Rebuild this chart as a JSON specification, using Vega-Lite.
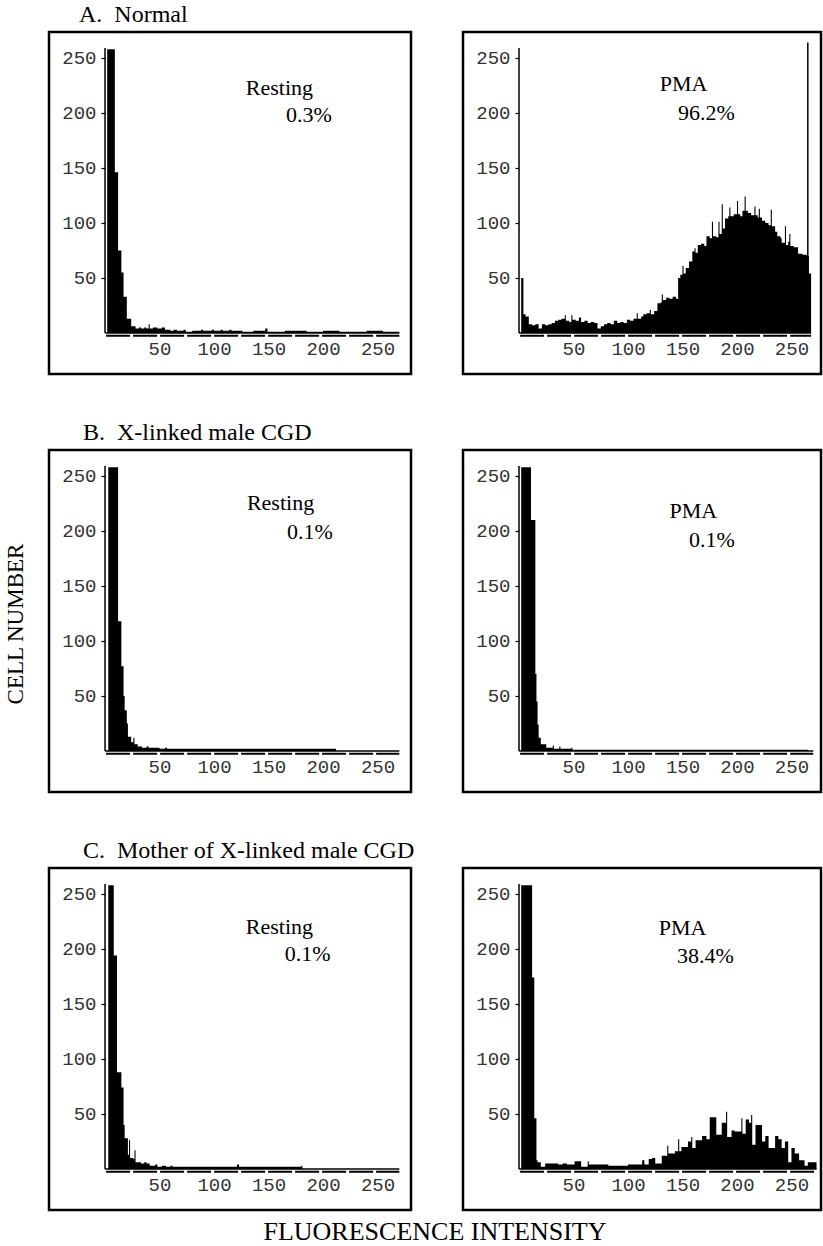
{
"$schema": "https://vega.github.io/schema/vega-lite/v6.json",
"background": "white",
"padding": {"left": 4, "top": 2, "right": 0, "bottom": 0},
"title": {"text": "CELL NUMBER", "orient": "left", "anchor": "middle", "offset": 20, "fontSize": 23},
"vconcat": [{
 "title": {"text": "FLUORESCENCE INTENSITY", "orient": "bottom", "anchor": "middle", "offset": 8, "fontSize": 26},
 "spacing": 44, "bounds": "full",
 "vconcat": [
  {"title": {"text": "A.\u00a0 Normal", "anchor": "start", "frame": "group", "dx": 30, "offset": 4, "fontSize": 24},
   "spacing": 52, "bounds": "flush",
   "hconcat": [
    {"width": 362, "height": 342, "layer": [
      {"data": {"name": "A1"}, "mark": {"type": "area", "interpolate": "step-after", "color": "black", "opacity": 1},
       "encoding": {"x": {"field": "c", "type": "quantitative", "scale": {"domain": [-51.4, 280.7], "nice": false, "zero": false}, "axis": {"values": [50,100,150,200,250], "title": null}},
                    "y": {"field": "n", "type": "quantitative", "scale": {"domain": [-37.3, 273.6], "nice": false, "zero": false}, "axis": {"values": [50,100,150,200,250], "title": null}},
                    "y2": {"datum": 0}}},
      {"data": {"values": [{}]}, "mark": {"type": "rule", "color": "black", "strokeWidth": 1.5}, "encoding": {"x": {"datum": 0}, "y": {"datum": 0}, "y2": {"datum": 259}}},
      {"data": {"values": [{}]}, "mark": {"type": "rule", "color": "black", "strokeWidth": 1.5}, "encoding": {"x": {"datum": 0}, "x2": {"datum": 270}, "y": {"datum": 0}}},
      {"data": {"values": [{}]}, "mark": {"type": "rule", "color": "black", "strokeWidth": 2, "strokeDash": [24, 3]}, "encoding": {"x": {"datum": 1}, "x2": {"datum": 270}, "y": {"datum": -2.5}}},
      {"data": {"values": [{}]}, "mark": {"type": "text"}, "encoding": {"x": {"datum": 160}, "y": {"datum": 223}, "text": {"value": "Resting"}}},
      {"data": {"values": [{}]}, "mark": {"type": "text"}, "encoding": {"x": {"datum": 187}, "y": {"datum": 198}, "text": {"value": "0.3%"}}}
    ]},
    {"width": 358, "height": 342, "layer": [
      {"data": {"name": "A2"}, "mark": {"type": "area", "interpolate": "step-after", "color": "black", "opacity": 1},
       "encoding": {"x": {"field": "c", "type": "quantitative", "scale": {"domain": [-51.4, 277.1], "nice": false, "zero": false}, "axis": {"values": [50,100,150,200,250], "title": null}},
                    "y": {"field": "n", "type": "quantitative", "scale": {"domain": [-37.3, 273.6], "nice": false, "zero": false}, "axis": {"values": [50,100,150,200,250], "title": null}},
                    "y2": {"datum": 0}}},
      {"data": {"values": [{}]}, "mark": {"type": "rule", "color": "black", "strokeWidth": 1.5}, "encoding": {"x": {"datum": 0}, "y": {"datum": 0}, "y2": {"datum": 259}}},
      {"data": {"values": [{}]}, "mark": {"type": "rule", "color": "black", "strokeWidth": 1.5}, "encoding": {"x": {"datum": 0}, "x2": {"datum": 268}, "y": {"datum": 0}}},
      {"data": {"values": [{}]}, "mark": {"type": "rule", "color": "black", "strokeWidth": 2, "strokeDash": [24, 3]}, "encoding": {"x": {"datum": 1}, "x2": {"datum": 268}, "y": {"datum": -2.5}}},
      {"data": {"values": [{}]}, "mark": {"type": "rule", "color": "black", "strokeWidth": 1.5}, "encoding": {"x": {"datum": 265}, "y": {"datum": 0}, "y2": {"datum": 264}}},
      {"data": {"values": [{}]}, "mark": {"type": "text"}, "encoding": {"x": {"datum": 151}, "y": {"datum": 226}, "text": {"value": "PMA"}}},
      {"data": {"values": [{}]}, "mark": {"type": "text"}, "encoding": {"x": {"datum": 172}, "y": {"datum": 200}, "text": {"value": "96.2%"}}}
    ]}
   ]},
  {"title": {"text": "B.\u00a0 X-linked male CGD", "anchor": "start", "frame": "group", "dx": 34, "offset": 4, "fontSize": 24},
   "spacing": 52, "bounds": "flush",
   "hconcat": [
    {"width": 362, "height": 342, "layer": [
      {"data": {"name": "B1"}, "mark": {"type": "area", "interpolate": "step-after", "color": "black", "opacity": 1},
       "encoding": {"x": {"field": "c", "type": "quantitative", "scale": {"domain": [-51.4, 280.7], "nice": false, "zero": false}, "axis": {"values": [50,100,150,200,250], "title": null}},
                    "y": {"field": "n", "type": "quantitative", "scale": {"domain": [-37.3, 273.6], "nice": false, "zero": false}, "axis": {"values": [50,100,150,200,250], "title": null}},
                    "y2": {"datum": 0}}},
      {"data": {"values": [{}]}, "mark": {"type": "rule", "color": "black", "strokeWidth": 1.5}, "encoding": {"x": {"datum": 0}, "y": {"datum": 0}, "y2": {"datum": 259}}},
      {"data": {"values": [{}]}, "mark": {"type": "rule", "color": "black", "strokeWidth": 1.5}, "encoding": {"x": {"datum": 0}, "x2": {"datum": 270}, "y": {"datum": 0}}},
      {"data": {"values": [{}]}, "mark": {"type": "rule", "color": "black", "strokeWidth": 2, "strokeDash": [24, 3]}, "encoding": {"x": {"datum": 1}, "x2": {"datum": 270}, "y": {"datum": -2.5}}},
      {"data": {"values": [{}]}, "mark": {"type": "text"}, "encoding": {"x": {"datum": 161}, "y": {"datum": 225}, "text": {"value": "Resting"}}},
      {"data": {"values": [{}]}, "mark": {"type": "text"}, "encoding": {"x": {"datum": 188}, "y": {"datum": 199}, "text": {"value": "0.1%"}}}
    ]},
    {"width": 358, "height": 342, "layer": [
      {"data": {"name": "B2"}, "mark": {"type": "area", "interpolate": "step-after", "color": "black", "opacity": 1},
       "encoding": {"x": {"field": "c", "type": "quantitative", "scale": {"domain": [-51.4, 277.1], "nice": false, "zero": false}, "axis": {"values": [50,100,150,200,250], "title": null}},
                    "y": {"field": "n", "type": "quantitative", "scale": {"domain": [-37.3, 273.6], "nice": false, "zero": false}, "axis": {"values": [50,100,150,200,250], "title": null}},
                    "y2": {"datum": 0}}},
      {"data": {"values": [{}]}, "mark": {"type": "rule", "color": "black", "strokeWidth": 1.5}, "encoding": {"x": {"datum": 0}, "y": {"datum": 0}, "y2": {"datum": 259}}},
      {"data": {"values": [{}]}, "mark": {"type": "rule", "color": "black", "strokeWidth": 1.5}, "encoding": {"x": {"datum": 0}, "x2": {"datum": 270}, "y": {"datum": 0}}},
      {"data": {"values": [{}]}, "mark": {"type": "rule", "color": "black", "strokeWidth": 2, "strokeDash": [24, 3]}, "encoding": {"x": {"datum": 1}, "x2": {"datum": 270}, "y": {"datum": -2.5}}},
      {"data": {"values": [{}]}, "mark": {"type": "text"}, "encoding": {"x": {"datum": 160}, "y": {"datum": 218}, "text": {"value": "PMA"}}},
      {"data": {"values": [{}]}, "mark": {"type": "text"}, "encoding": {"x": {"datum": 177}, "y": {"datum": 192}, "text": {"value": "0.1%"}}}
    ]}
   ]},
  {"title": {"text": "C.\u00a0 Mother of X-linked male CGD", "anchor": "start", "frame": "group", "dx": 34, "offset": 4, "fontSize": 24},
   "spacing": 52, "bounds": "flush",
   "hconcat": [
    {"width": 362, "height": 342, "layer": [
      {"data": {"name": "C1"}, "mark": {"type": "area", "interpolate": "step-after", "color": "black", "opacity": 1},
       "encoding": {"x": {"field": "c", "type": "quantitative", "scale": {"domain": [-51.4, 280.7], "nice": false, "zero": false}, "axis": {"values": [50,100,150,200,250], "title": null}},
                    "y": {"field": "n", "type": "quantitative", "scale": {"domain": [-37.3, 273.6], "nice": false, "zero": false}, "axis": {"values": [50,100,150,200,250], "title": null}},
                    "y2": {"datum": 0}}},
      {"data": {"values": [{}]}, "mark": {"type": "rule", "color": "black", "strokeWidth": 1.5}, "encoding": {"x": {"datum": 0}, "y": {"datum": 0}, "y2": {"datum": 259}}},
      {"data": {"values": [{}]}, "mark": {"type": "rule", "color": "black", "strokeWidth": 1.5}, "encoding": {"x": {"datum": 0}, "x2": {"datum": 270}, "y": {"datum": 0}}},
      {"data": {"values": [{}]}, "mark": {"type": "rule", "color": "black", "strokeWidth": 2, "strokeDash": [24, 3]}, "encoding": {"x": {"datum": 1}, "x2": {"datum": 270}, "y": {"datum": -2.5}}},
      {"data": {"values": [{}]}, "mark": {"type": "text"}, "encoding": {"x": {"datum": 160}, "y": {"datum": 220}, "text": {"value": "Resting"}}},
      {"data": {"values": [{}]}, "mark": {"type": "text"}, "encoding": {"x": {"datum": 186}, "y": {"datum": 195}, "text": {"value": "0.1%"}}}
    ]},
    {"width": 358, "height": 342, "layer": [
      {"data": {"name": "C2"}, "mark": {"type": "area", "interpolate": "step-after", "color": "black", "opacity": 1},
       "encoding": {"x": {"field": "c", "type": "quantitative", "scale": {"domain": [-51.4, 277.1], "nice": false, "zero": false}, "axis": {"values": [50,100,150,200,250], "title": null}},
                    "y": {"field": "n", "type": "quantitative", "scale": {"domain": [-37.3, 273.6], "nice": false, "zero": false}, "axis": {"values": [50,100,150,200,250], "title": null}},
                    "y2": {"datum": 0}}},
      {"data": {"values": [{}]}, "mark": {"type": "rule", "color": "black", "strokeWidth": 1.5}, "encoding": {"x": {"datum": 0}, "y": {"datum": 0}, "y2": {"datum": 259}}},
      {"data": {"values": [{}]}, "mark": {"type": "rule", "color": "black", "strokeWidth": 1.5}, "encoding": {"x": {"datum": 0}, "x2": {"datum": 273}, "y": {"datum": 0}}},
      {"data": {"values": [{}]}, "mark": {"type": "rule", "color": "black", "strokeWidth": 2, "strokeDash": [24, 3]}, "encoding": {"x": {"datum": 1}, "x2": {"datum": 273}, "y": {"datum": -2.5}}},
      {"data": {"values": [{}]}, "mark": {"type": "text"}, "encoding": {"x": {"datum": 150}, "y": {"datum": 219}, "text": {"value": "PMA"}}},
      {"data": {"values": [{}]}, "mark": {"type": "text"}, "encoding": {"x": {"datum": 171}, "y": {"datum": 194}, "text": {"value": "38.4%"}}}
    ]}
   ]}
 ]
}],
"datasets": {
 "A1": [{"c":2,"n":258},{"c":9,"n":146},{"c":12,"n":75},{"c":15,"n":55},{"c":17,"n":33},{"c":20,"n":13},{"c":24,"n":6},{"c":28,"n":4},{"c":31,"n":5},{"c":33,"n":4},{"c":36,"n":5},{"c":38,"n":4},{"c":40,"n":8},{"c":41,"n":4},{"c":44,"n":5},{"c":48,"n":4},{"c":52,"n":5},{"c":55,"n":3},{"c":60,"n":2},{"c":63,"n":3},{"c":66,"n":2},{"c":72,"n":3},{"c":74,"n":1},{"c":80,"n":2},{"c":88,"n":3},{"c":90,"n":2},{"c":98,"n":3},{"c":100,"n":2},{"c":106,"n":3},{"c":108,"n":2},{"c":114,"n":3},{"c":116,"n":2},{"c":126,"n":1},{"c":136,"n":2},{"c":147,"n":4},{"c":149,"n":1},{"c":165,"n":2},{"c":185,"n":1},{"c":200,"n":2},{"c":215,"n":1},{"c":240,"n":2},{"c":255,"n":1},{"c":270,"n":0}],
 "A2": [{"c":2,"n":50},{"c":4,"n":17},{"c":6,"n":15},{"c":9,"n":8},{"c":12,"n":7},{"c":15,"n":8},{"c":18,"n":4},{"c":21,"n":8},{"c":24,"n":7},{"c":27,"n":8},{"c":30,"n":9},{"c":33,"n":11},{"c":36,"n":12},{"c":39,"n":13},{"c":42,"n":16},{"c":43,"n":11},{"c":46,"n":10},{"c":48,"n":16},{"c":49,"n":12},{"c":52,"n":11},{"c":55,"n":14},{"c":57,"n":10},{"c":60,"n":11},{"c":63,"n":9},{"c":66,"n":10},{"c":69,"n":9},{"c":72,"n":4},{"c":75,"n":6},{"c":78,"n":8},{"c":81,"n":9},{"c":84,"n":8},{"c":87,"n":11},{"c":90,"n":9},{"c":93,"n":10},{"c":96,"n":9},{"c":99,"n":12},{"c":102,"n":11},{"c":105,"n":13},{"c":108,"n":18},{"c":109,"n":13},{"c":112,"n":15},{"c":114,"n":17},{"c":117,"n":18},{"c":120,"n":21},{"c":121,"n":17},{"c":124,"n":20},{"c":127,"n":27},{"c":130,"n":28},{"c":131,"n":35},{"c":132,"n":30},{"c":135,"n":32},{"c":138,"n":31},{"c":141,"n":33},{"c":144,"n":31},{"c":146,"n":50},{"c":148,"n":53},{"c":150,"n":61},{"c":151,"n":54},{"c":153,"n":59},{"c":156,"n":65},{"c":159,"n":74},{"c":161,"n":77},{"c":162,"n":73},{"c":164,"n":80},{"c":167,"n":81},{"c":170,"n":79},{"c":172,"n":88},{"c":175,"n":86},{"c":177,"n":101},{"c":178,"n":88},{"c":181,"n":87},{"c":183,"n":101},{"c":184,"n":90},{"c":186,"n":117},{"c":187,"n":95},{"c":189,"n":104},{"c":192,"n":106},{"c":193,"n":114},{"c":194,"n":106},{"c":197,"n":108},{"c":200,"n":120},{"c":201,"n":108},{"c":203,"n":106},{"c":205,"n":111},{"c":207,"n":124},{"c":208,"n":111},{"c":210,"n":109},{"c":213,"n":107},{"c":216,"n":115},{"c":217,"n":107},{"c":219,"n":105},{"c":220,"n":113},{"c":221,"n":105},{"c":223,"n":102},{"c":226,"n":100},{"c":229,"n":98},{"c":231,"n":112},{"c":232,"n":97},{"c":235,"n":92},{"c":237,"n":88},{"c":240,"n":86},{"c":241,"n":82},{"c":244,"n":97},{"c":245,"n":80},{"c":247,"n":83},{"c":248,"n":90},{"c":249,"n":79},{"c":252,"n":78},{"c":256,"n":72},{"c":260,"n":71},{"c":264,"n":70},{"c":266,"n":54},{"c":268,"n":0}],
 "B1": [{"c":3,"n":258},{"c":12,"n":118},{"c":15,"n":77},{"c":17,"n":50},{"c":18,"n":37},{"c":20,"n":25},{"c":21,"n":13},{"c":24,"n":8},{"c":26,"n":12},{"c":27,"n":6},{"c":30,"n":4},{"c":34,"n":3},{"c":38,"n":4},{"c":40,"n":3},{"c":46,"n":3},{"c":50,"n":2},{"c":55,"n":3},{"c":57,"n":2},{"c":212,"n":0}],
 "B2": [{"c":2,"n":258},{"c":11,"n":210},{"c":15,"n":70},{"c":16,"n":45},{"c":17,"n":24},{"c":18,"n":12},{"c":20,"n":6},{"c":25,"n":3},{"c":31,"n":5},{"c":32,"n":2},{"c":37,"n":4},{"c":38,"n":2},{"c":48,"n":3},{"c":49,"n":1},{"c":265,"n":0}],
 "C1": [{"c":3,"n":258},{"c":8,"n":194},{"c":11,"n":88},{"c":15,"n":74},{"c":17,"n":40},{"c":18,"n":28},{"c":21,"n":13},{"c":22,"n":26},{"c":23,"n":10},{"c":26,"n":9},{"c":27,"n":17},{"c":28,"n":6},{"c":33,"n":5},{"c":36,"n":6},{"c":38,"n":5},{"c":41,"n":3},{"c":46,"n":4},{"c":48,"n":2},{"c":52,"n":3},{"c":56,"n":2},{"c":60,"n":3},{"c":62,"n":2},{"c":121,"n":4},{"c":123,"n":2},{"c":180,"n":3},{"c":181,"n":0}],
 "C2": [{"c":2,"n":258},{"c":12,"n":174},{"c":14,"n":46},{"c":16,"n":8},{"c":17,"n":6},{"c":20,"n":2},{"c":24,"n":5},{"c":36,"n":4},{"c":40,"n":5},{"c":44,"n":4},{"c":51,"n":7},{"c":57,"n":2},{"c":63,"n":7},{"c":64,"n":4},{"c":82,"n":3},{"c":100,"n":4},{"c":113,"n":8},{"c":115,"n":4},{"c":119,"n":9},{"c":122,"n":10},{"c":125,"n":5},{"c":131,"n":12},{"c":136,"n":21},{"c":137,"n":14},{"c":143,"n":16},{"c":146,"n":27},{"c":147,"n":16},{"c":149,"n":20},{"c":155,"n":25},{"c":158,"n":29},{"c":159,"n":19},{"c":162,"n":26},{"c":168,"n":30},{"c":172,"n":27},{"c":175,"n":47},{"c":181,"n":31},{"c":186,"n":42},{"c":190,"n":52},{"c":191,"n":29},{"c":195,"n":35},{"c":198,"n":34},{"c":204,"n":46},{"c":205,"n":32},{"c":208,"n":45},{"c":211,"n":42},{"c":213,"n":49},{"c":214,"n":22},{"c":217,"n":40},{"c":223,"n":25},{"c":226,"n":30},{"c":229,"n":19},{"c":235,"n":30},{"c":238,"n":27},{"c":241,"n":19},{"c":244,"n":25},{"c":247,"n":6},{"c":250,"n":19},{"c":253,"n":14},{"c":257,"n":8},{"c":262,"n":3},{"c":265,"n":6},{"c":273,"n":0}]
},
"config": {
 "view": {"stroke": "black", "strokeWidth": 2.5},
 "axis": {"grid": false, "domain": false, "labelFont": "Liberation Mono", "labelFontSize": 19, "labelColor": "#333333", "labelFlush": false, "tickColor": "black", "tickWidth": 1.2},
 "axisX": {"offset": -41, "ticks": false, "labelPadding": 6},
 "axisY": {"offset": -56, "ticks": true, "tickSize": 4, "labelPadding": 5},
 "title": {"font": "Liberation Serif", "fontWeight": "normal", "color": "black"},
 "text": {"font": "Liberation Serif", "fontSize": 22, "color": "black"}
}
}
